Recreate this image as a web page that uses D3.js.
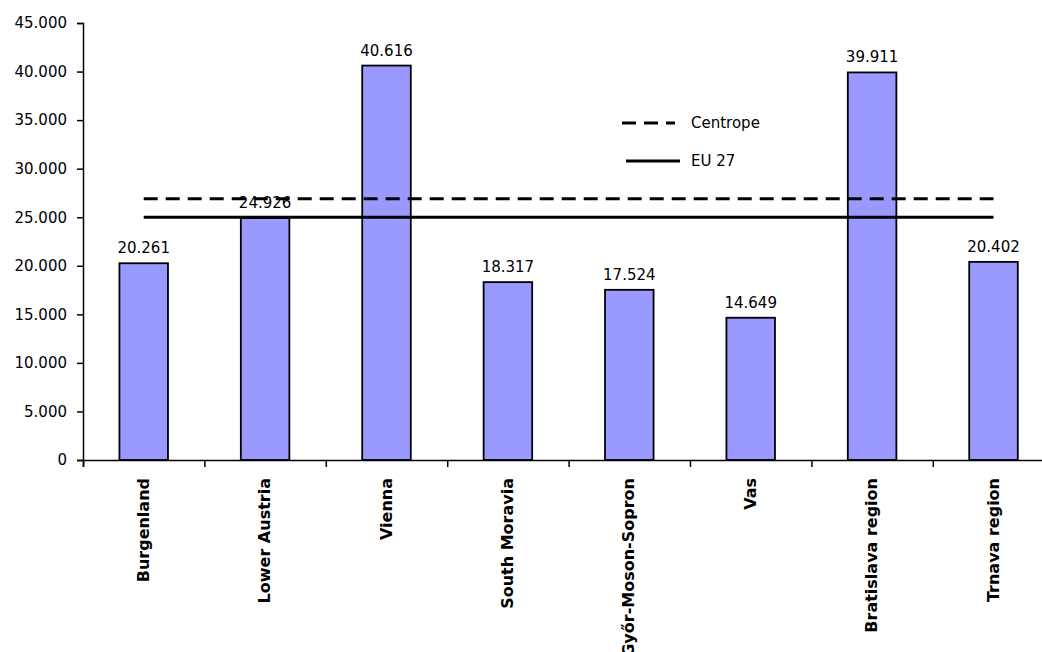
<!DOCTYPE html>
<html>
<head>
<meta charset="utf-8">
<script src="https://cdn.jsdelivr.net/npm/d3@7"></script>
<style>
 body {margin:0;background:#fff;}
 svg {display:block;overflow:hidden;}
 .tick text {font-family:"DejaVu Sans",sans-serif;}
</style>
</head>
<body>
<script>
// data
var regions=['Burgenland','Lower Austria','Vienna','South Moravia','Győr-Moson-Sopron','Vas','Bratislava region','Trnava region'];
var gdp=[20261,24926,40616,18317,17524,14649,39911,20402];
var refNames=['Centrope','EU 27'];
var refValues=[26900,25000];
var refDash=['14,8',null];
var yTicks=[0,5000,10000,15000,20000,25000,30000,35000,40000,45000];
// layout
var wid=1042, hgh=652;
var x0=83, step=121.4, y0=460, ytop=23;
var fmt=d3.formatLocale({decimal:',',thousands:'.',grouping:[3],currency:['','']}).format(',d');

var svg=d3.select('body').append('svg').attr('width',wid).attr('height',hgh);

var x=d3.scaleBand().domain(regions).range([x0,x0+step*regions.length])
  .paddingInner(0.6).paddingOuter(0.3);
var xEdge=d3.scaleLinear().domain([0,regions.length]).range([x0,x0+step*regions.length]);
var y=d3.scaleLinear().domain([0,45000]).range([y0,ytop]);

// bars
svg.selectAll('rect.bar').data(gdp).enter().append('rect').attr('class','bar')
  .attr('x',function(d,i){return x(regions[i]);})
  .attr('width',x.bandwidth())
  .attr('y',function(d){return y(d);})
  .attr('height',function(d){return y0-y(d);})
  .attr('fill','#9999ff').attr('stroke','#000').attr('stroke-width',1.8);

// value labels
svg.selectAll('text.val').data(gdp).enter().append('text').attr('class','val')
  .attr('x',function(d,i){return x(regions[i])+x.bandwidth()/2;})
  .attr('y',function(d){return y(d)-10;})
  .attr('text-anchor','middle')
  .style('font-family','"DejaVu Sans",sans-serif').style('font-size','15px')
  .text(function(d){return fmt(d);});

// reference lines, from first to last category centre
var xa=x(regions[0])+x.bandwidth()/2, xb=x(regions[regions.length-1])+x.bandwidth()/2;
svg.selectAll('line.ref').data(refValues).enter().append('line').attr('class','ref')
  .attr('x1',xa).attr('x2',xb)
  .attr('y1',function(d){return y(d);}).attr('y2',function(d){return y(d);})
  .attr('stroke','#000').attr('stroke-width',3)
  .attr('stroke-dasharray',function(d,i){return refDash[i];});

// y axis
var ya=svg.append('g').attr('transform','translate('+x0+',0)')
  .call(d3.axisLeft(y).tickValues(yTicks).tickSize(6).tickPadding(10).tickFormat(fmt));
ya.selectAll('text').style('font-size','15px').attr('fill','#000');
ya.selectAll('line,path').attr('stroke','#000').attr('stroke-width',1.5);

// x axis, ticks between categories
var xa2=svg.append('g').attr('transform','translate(0,'+y0+')')
  .call(d3.axisBottom(xEdge).tickValues(d3.range(regions.length+1)).tickSize(7).tickFormat(''));
xa2.selectAll('line,path').attr('stroke','#000').attr('stroke-width',1.5);

// category labels
svg.selectAll('text.cat').data(regions).enter().append('text').attr('class','cat')
  .attr('transform',function(d){return 'translate('+(x(d)+x.bandwidth()/2+5)+',478) rotate(-90)';})
  .attr('text-anchor','end')
  .style('font-family','"DejaVu Sans",sans-serif').style('font-size','16px').style('font-weight','bold')
  .text(function(d){return d;});

// legend
var leg=svg.append('g').attr('transform','translate(622,123)');
leg.selectAll('line').data(refNames).enter().append('line')
  .attr('x1',function(d,i){return i?4:0;}).attr('x2',function(d,i){return i?58:53;})
  .attr('y1',function(d,i){return i*38;}).attr('y2',function(d,i){return i*38;})
  .attr('stroke','#000').attr('stroke-width',3)
  .attr('stroke-dasharray',function(d,i){return refDash[i];});
leg.selectAll('text').data(refNames).enter().append('text')
  .attr('x',69).attr('y',function(d,i){return i*38;}).attr('dy','0.35em')
  .style('font-family','"DejaVu Sans",sans-serif').style('font-size','15px')
  .text(function(d){return d;});
</script>
</body>
</html>
